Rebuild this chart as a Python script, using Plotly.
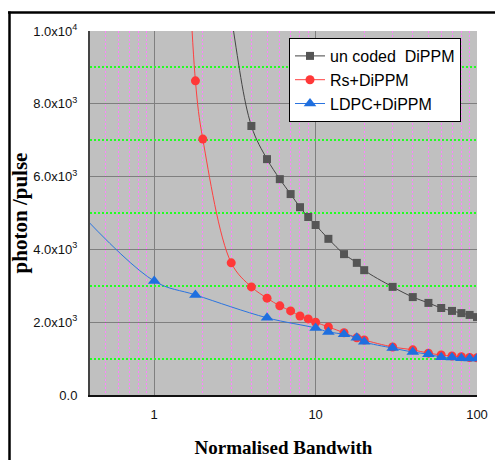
import plotly.graph_objects as go

# ---- data ----
unc_x = [2, 3, 4, 5, 6, 7, 8, 9, 10, 12, 15, 18, 20, 30, 40, 50, 60, 70, 80, 90, 100]
unc_y = [16000, 10400, 7390, 6480, 5930, 5520, 5160, 4890, 4670, 4290, 3870, 3630, 3430,
         2970, 2690, 2530, 2390, 2310, 2250, 2200, 2140]

rs_x = [1.5, 1.8, 2, 3, 4, 5, 6, 7, 8, 9, 10, 12, 15, 18, 20, 30, 40, 50, 60, 70, 80, 90, 100]
rs_y = [16000, 8630, 7030, 3630, 2970, 2660, 2450, 2310, 2170, 2090, 2000, 1870, 1710, 1570,
        1510, 1320, 1240, 1150, 1100, 1070, 1050, 1030, 1020]

ldpc_x = [0.3, 1, 1.8, 5, 10, 12, 15, 18, 20, 30, 40, 50, 60, 70, 80, 90, 100]
ldpc_y = [5300, 3130, 2750, 2120, 1840, 1730, 1670, 1570, 1460, 1290, 1180, 1120, 1040,
          1030, 1010, 1000, 1000]

names = ["un coded\u00a0 DiPPM", "Rs+DiPPM", "LDPC+DiPPM"]
ytick_vals = [0, 2000, 4000, 6000, 8000, 10000]
ytick_text = ["0.0", "2.0x10<sup>3</sup>", "4.0x10<sup>3</sup>", "6.0x10<sup>3</sup>",
              "8.0x10<sup>3</sup>", "1.0x10<sup>4</sup>"]
ygrid_minor = [1000, 3000, 5000, 7000, 9000]
xtick_vals = [1, 10, 100]
xtick_text = ["1", "10", "100"]

W, H = 495, 460
L, R, T, B = 90, 18, 31, 65
pw, ph = W - L - R, H - T - B

fig = go.Figure()
# invisible helper trace for the secondary (minor grid) y axis
fig.add_trace(go.Scatter(x=[1], y=[0], yaxis="y2", mode="markers",
                         marker=dict(opacity=0), showlegend=False, hoverinfo="skip"))
fig.add_trace(go.Scatter(x=unc_x, y=unc_y, name=names[0], mode="lines+markers",
                         line=dict(color="#444444", width=1, shape="spline", smoothing=1.0),
                         marker=dict(symbol="square", size=8, color="#555555")))
fig.add_trace(go.Scatter(x=rs_x, y=rs_y, name=names[1], mode="lines+markers",
                         line=dict(color="#ff4040", width=1, shape="spline", smoothing=1.0),
                         marker=dict(symbol="circle", size=9, color="#ff3838")))
fig.add_trace(go.Scatter(x=ldpc_x, y=ldpc_y, name=names[2], mode="lines+markers",
                         line=dict(color="#2a74e0", width=1, shape="spline", smoothing=1.0),
                         marker=dict(symbol="triangle-up", size=11, color="#1f6fdf")))

def px_x(p):
    return (p - L) / pw

def px_y(p):
    return (H - B - p) / ph

fig.add_shape(type="line", xref="paper", yref="paper", x0=px_x(8), x1=px_x(W + 5),
              y0=px_y(12.5), y1=px_y(12.5), line=dict(color="black", width=2.5))
fig.add_shape(type="line", xref="paper", yref="paper", x0=px_x(9.5), x1=px_x(9.5),
              y0=px_y(11.5), y1=px_y(H + 5), line=dict(color="black", width=2.5))

tick_font = dict(family="Liberation Sans, Arial", size=13, color="#111111")

fig.update_layout(
    width=W, height=H,
    margin=dict(l=L, r=R, t=T, b=B, autoexpand=False),
    paper_bgcolor="white", plot_bgcolor="#c0c0c0",
    showlegend=True,
    legend=dict(x=px_x(289), y=px_y(38), xanchor="left", yanchor="top",
                bgcolor="white", bordercolor="black", borderwidth=1,
                font=dict(family="Liberation Sans, Arial", size=16, color="black"),
                tracegroupgap=0, itemwidth=30),
    xaxis=dict(type="log", range=[-0.398, 2.0], tickvals=xtick_vals, ticktext=xtick_text,
               showgrid=True, gridcolor="#7f7f7f", gridwidth=1,
               minor=dict(showgrid=True, gridcolor="#ff80ff", griddash="2px,2px",
                          gridwidth=1, dtick="D1"),
               showline=True, linecolor="#111111", linewidth=2, ticks="",
               tickfont=tick_font, zeroline=False, ticklabelstandoff=6,
               title=dict(text="<b>Normalised Bandwith</b>",
                          font=dict(family="Liberation Serif, Times New Roman", size=19,
                                    color="black"),
                          standoff=20)),
    yaxis=dict(range=[0, 10000], tickvals=ytick_vals, ticktext=ytick_text,
               showgrid=True, gridcolor="#7f7f7f", gridwidth=1,
               showline=True, linecolor="#444444", linewidth=2, ticks="",
               tickfont=tick_font, zeroline=False, ticklabelstandoff=8,
               title=dict(text="<b>photon /pulse</b>",
                          font=dict(family="Liberation Serif, Times New Roman", size=21,
                                    color="black"),
                          standoff=0)),
    yaxis2=dict(overlaying="y", range=[0, 10000], tickvals=ygrid_minor,
                showticklabels=False, ticks="", showgrid=True, gridcolor="#22ff22",
                griddash="2px,2px", gridwidth=2, zeroline=False, showline=False),
)

fig.write_html("out.html")
